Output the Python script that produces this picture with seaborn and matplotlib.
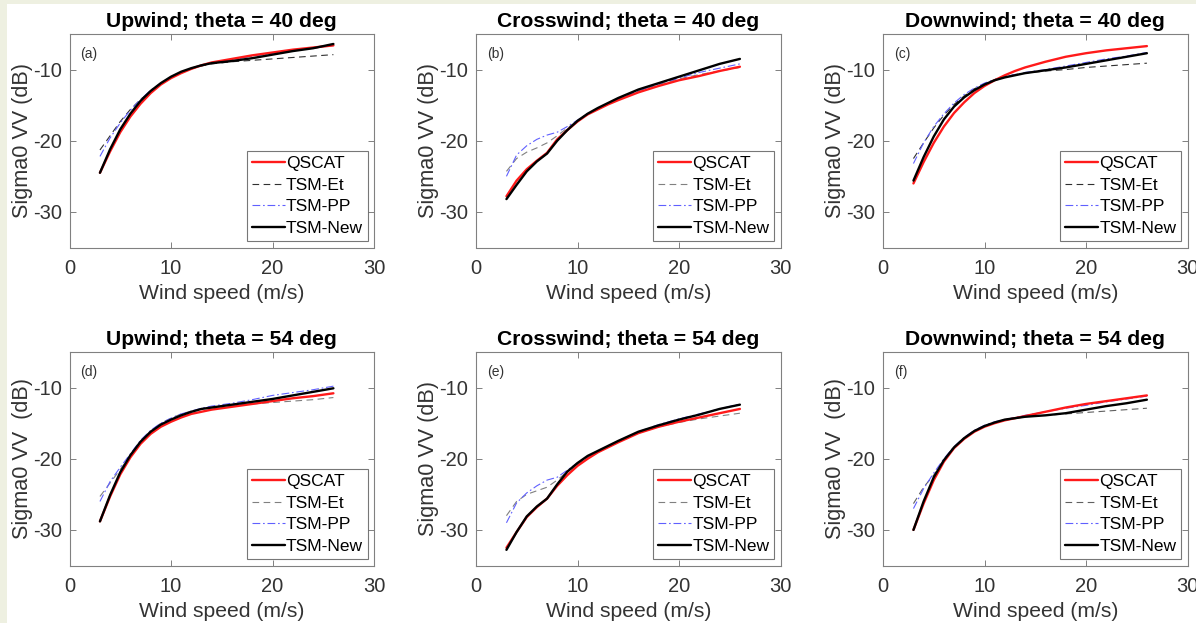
import numpy as np
import pandas as pd
import matplotlib
matplotlib.use("Agg")
import matplotlib.pyplot as plt
from matplotlib.patches import Rectangle
import seaborn as sns

sns.set_style("white")
plt.rcParams['font.family'] = ['Liberation Sans', 'DejaVu Sans']
plt.rcParams['axes.unicode_minus'] = False

wind = [3, 4, 5, 6, 7, 8, 9, 10, 11, 12, 13, 14, 16, 18, 20, 22, 24, 26]

titles = ["Upwind; theta = 40 deg", "Crosswind; theta = 40 deg", "Downwind; theta = 40 deg",
          "Upwind; theta = 54 deg", "Crosswind; theta = 54 deg", "Downwind; theta = 54 deg"]
panel_labels = ["(a)", "(b)", "(c)", "(d)", "(e)", "(f)"]
ylabels = ["Sigma0 VV (dB)", "Sigma0 VV (dB)", "Sigma0 VV (dB)",
           "Sigma0 VV  (dB)", "Sigma0 VV (dB)", "Sigma0 VV  (dB)"]
series_names = ["QSCAT", "TSM-Et", "TSM-PP", "TSM-New"]

# (a) Upwind 40
a_qscat = [-24.5, -21.5, -18.8, -16.6, -14.8, -13.3, -12.1, -11.2, -10.5, -9.9, -9.4, -9.0, -8.5, -8.0, -7.6, -7.2, -6.9, -6.6]
a_et    = [-21.3, -19.3, -17.3, -15.6, -14.2, -13.0, -12.0, -11.1, -10.4, -9.9, -9.5, -9.2, -8.9, -8.7, -8.5, -8.3, -8.1, -7.9]
a_pp    = [-22.2, -19.6, -17.5, -15.7, -14.2, -12.9, -11.9, -11.0, -10.4, -9.9, -9.4, -9.1, -8.6, -8.1, -7.7, -7.3, -7.0, -6.6]
a_new   = [-24.5, -21.2, -18.4, -16.2, -14.4, -13.0, -11.9, -11.0, -10.3, -9.8, -9.4, -9.1, -8.8, -8.4, -7.9, -7.4, -7.0, -6.4]

# (b) Crosswind 40
b_qscat = [-27.8, -25.6, -24.0, -22.8, -21.7, -19.8, -18.5, -17.3, -16.3, -15.6, -14.9, -14.3, -13.2, -12.3, -11.5, -10.9, -10.2, -9.6]
b_et    = [-24.3, -22.5, -21.6, -21.0, -20.3, -19.3, -18.2, -17.2, -16.3, -15.5, -14.8, -14.1, -13.0, -12.1, -11.3, -10.7, -10.2, -9.7]
b_pp    = [-25.0, -22.0, -20.7, -19.8, -19.2, -18.8, -18.0, -17.1, -16.2, -15.5, -14.8, -14.2, -13.0, -12.0, -11.2, -10.4, -9.8, -9.2]
b_new   = [-28.2, -26.2, -24.3, -22.9, -21.8, -20.0, -18.5, -17.2, -16.2, -15.4, -14.7, -14.0, -12.8, -11.9, -11.0, -10.1, -9.2, -8.5]

# (c) Downwind 40
c_qscat = [-26.0, -23.0, -20.3, -18.0, -16.1, -14.6, -13.3, -12.3, -11.5, -10.8, -10.2, -9.7, -8.9, -8.2, -7.7, -7.3, -7.0, -6.7]
c_et    = [-22.5, -20.3, -18.2, -16.4, -14.9, -13.7, -12.7, -12.0, -11.4, -11.0, -10.7, -10.5, -10.2, -10.0, -9.7, -9.5, -9.3, -9.1]
c_pp    = [-23.2, -20.3, -18.0, -16.2, -14.7, -13.5, -12.6, -11.9, -11.4, -11.0, -10.7, -10.4, -10.0, -9.5, -9.0, -8.5, -8.1, -7.6]
c_new   = [-25.6, -22.3, -19.4, -17.0, -15.2, -13.9, -12.9, -12.1, -11.5, -11.1, -10.8, -10.5, -10.1, -9.7, -9.2, -8.7, -8.2, -7.7]

# (d) Upwind 54
d_qscat = [-28.8, -25.3, -22.2, -19.8, -17.9, -16.5, -15.5, -14.8, -14.2, -13.7, -13.4, -13.1, -12.7, -12.3, -11.9, -11.5, -11.2, -10.8]
d_et    = [-25.3, -23.4, -21.5, -19.5, -17.6, -16.1, -15.0, -14.3, -13.7, -13.3, -13.0, -12.8, -12.5, -12.3, -12.1, -11.9, -11.7, -11.4]
d_pp    = [-26.0, -23.2, -21.2, -19.3, -17.4, -16.0, -15.0, -14.3, -13.7, -13.3, -12.9, -12.6, -12.2, -11.7, -11.1, -10.7, -10.3, -9.8]
d_new   = [-28.8, -25.1, -21.9, -19.5, -17.6, -16.2, -15.2, -14.5, -13.9, -13.4, -13.0, -12.8, -12.4, -12.0, -11.6, -11.1, -10.6, -10.1]

# (e) Crosswind 54
e_qscat = [-32.5, -30.3, -28.2, -26.8, -25.6, -23.8, -22.3, -21.0, -20.0, -19.1, -18.4, -17.7, -16.4, -15.5, -14.8, -14.2, -13.6, -13.0]
e_et    = [-28.0, -26.0, -25.0, -24.5, -24.0, -23.0, -21.8, -20.8, -19.8, -19.0, -18.3, -17.6, -16.4, -15.5, -14.9, -14.4, -14.0, -13.6]
e_pp    = [-29.0, -26.2, -24.8, -23.8, -23.0, -22.6, -21.6, -20.6, -19.7, -18.9, -18.2, -17.5, -16.2, -15.2, -14.4, -13.7, -13.0, -12.3]
e_new   = [-32.8, -30.3, -28.1, -26.7, -25.6, -23.6, -21.8, -20.6, -19.6, -18.9, -18.2, -17.5, -16.2, -15.3, -14.5, -13.8, -13.0, -12.4]

# (f) Downwind 54
f_qscat = [-30.0, -26.3, -23.0, -20.4, -18.5, -17.2, -16.2, -15.5, -15.0, -14.6, -14.3, -14.0, -13.4, -12.8, -12.3, -11.9, -11.5, -11.1]
f_et    = [-26.3, -24.0, -22.3, -20.3, -18.5, -17.1, -16.1, -15.4, -14.9, -14.5, -14.3, -14.1, -13.9, -13.7, -13.5, -13.3, -13.1, -12.9]
f_pp    = [-27.0, -24.2, -22.0, -20.0, -18.3, -17.0, -16.0, -15.3, -14.8, -14.5, -14.2, -13.9, -13.4, -12.9, -12.5, -12.0, -11.6, -11.2]
f_new   = [-30.0, -26.0, -22.6, -20.2, -18.4, -17.1, -16.1, -15.4, -14.9, -14.5, -14.3, -14.1, -13.9, -13.6, -13.1, -12.6, -12.2, -11.7]

panels = [
    [a_qscat, a_et, a_pp, a_new],
    [b_qscat, b_et, b_pp, b_new],
    [c_qscat, c_et, c_pp, c_new],
    [d_qscat, d_et, d_pp, d_new],
    [e_qscat, e_et, e_pp, e_new],
    [f_qscat, f_et, f_pp, f_new],
]

et_colors = ['#303030', '#808080', '#303030', '#808080', '#808080', '#606060']
series_styles = [
    dict(color='#ff1a1a', linewidth=1.7, linestyle='-'),
    dict(color=None, linewidth=0.8, linestyle=(0, (6, 4))),
    dict(color='#6060ff', linewidth=0.8, linestyle=(0, (7, 2.5, 1.5, 2.5))),
    dict(color='black', linewidth=1.7, linestyle='-'),
]
draw_order = [1, 2, 0, 3]

W, H = 1196, 623
fig = plt.figure(figsize=(W / 100, H / 100), dpi=100)
fig.patch.set_facecolor('white')
fig.patches.append(Rectangle((0, 0), 7 / W, 1, transform=fig.transFigure,
                             facecolor='#eef0e1', edgecolor='none', zorder=-10))
fig.patches.append(Rectangle((0, 1 - 4 / H), 1, 4 / H, transform=fig.transFigure,
                             facecolor='#eef0e1', edgecolor='none', zorder=-10))

lefts = [69.5, 476, 883]
row_tops = [34, 352]
ax_w, ax_h = 304.5, 213.5

spine_col = '#808080'
text_col = '#333333'

for i in range(6):
    r, c = divmod(i, 3)
    left = lefts[c] / W
    bottom = 1 - (row_tops[r] + ax_h) / H
    ax = fig.add_axes([left, bottom, ax_w / W, ax_h / H])
    data = panels[i]
    for k in draw_order:
        st = dict(series_styles[k])
        if k == 1:
            st['color'] = et_colors[i]
        df = pd.DataFrame({'wind': wind, 'sigma0': data[k]})
        sns.lineplot(data=df, x='wind', y='sigma0', ax=ax, estimator=None,
                     label=series_names[k], **st)
    ax.set_xlim(0, 30)
    ax.set_ylim(-35, -5)
    ax.set_xticks([0, 10, 20, 30])
    ax.set_yticks([-30, -20, -10])
    ax.tick_params(direction='in', length=4, width=0.7, color=spine_col,
                   labelsize=14.5, labelcolor=text_col,
                   top=True, right=True, bottom=True, left=True)
    ax.tick_params(axis='x', pad=8)
    ax.tick_params(axis='y', pad=5.5)
    for s in ax.spines.values():
        s.set_color(spine_col)
        s.set_linewidth(0.8)
    ax.set_xlabel('Wind speed (m/s)', fontsize=15.2, color=text_col, labelpad=4.5)
    ax.set_ylabel(ylabels[i], fontsize=15.6, color=text_col, labelpad=0)
    ax.set_title(titles[i], fontsize=15.2, fontweight='bold', color='black', pad=5)
    ax.text(0.035, 0.94, panel_labels[i], transform=ax.transAxes, fontsize=10,
            color=text_col, va='top', ha='left')
    h, l = ax.get_legend_handles_labels()
    order = [l.index(n) for n in series_names]
    leg = ax.legend([h[j] for j in order], [l[j] for j in order], loc='lower right',
                    fontsize=12.5, frameon=True, fancybox=False, handlelength=1.9,
                    handletextpad=0.05, borderpad=0.3, labelspacing=0.38,
                    borderaxespad=0.35)
    leg.get_frame().set_edgecolor('#555555')
    leg.get_frame().set_linewidth(0.8)
    for t in leg.get_texts():
        t.set_color('black')

fig.savefig('out.png', dpi=100, facecolor=fig.get_facecolor())
